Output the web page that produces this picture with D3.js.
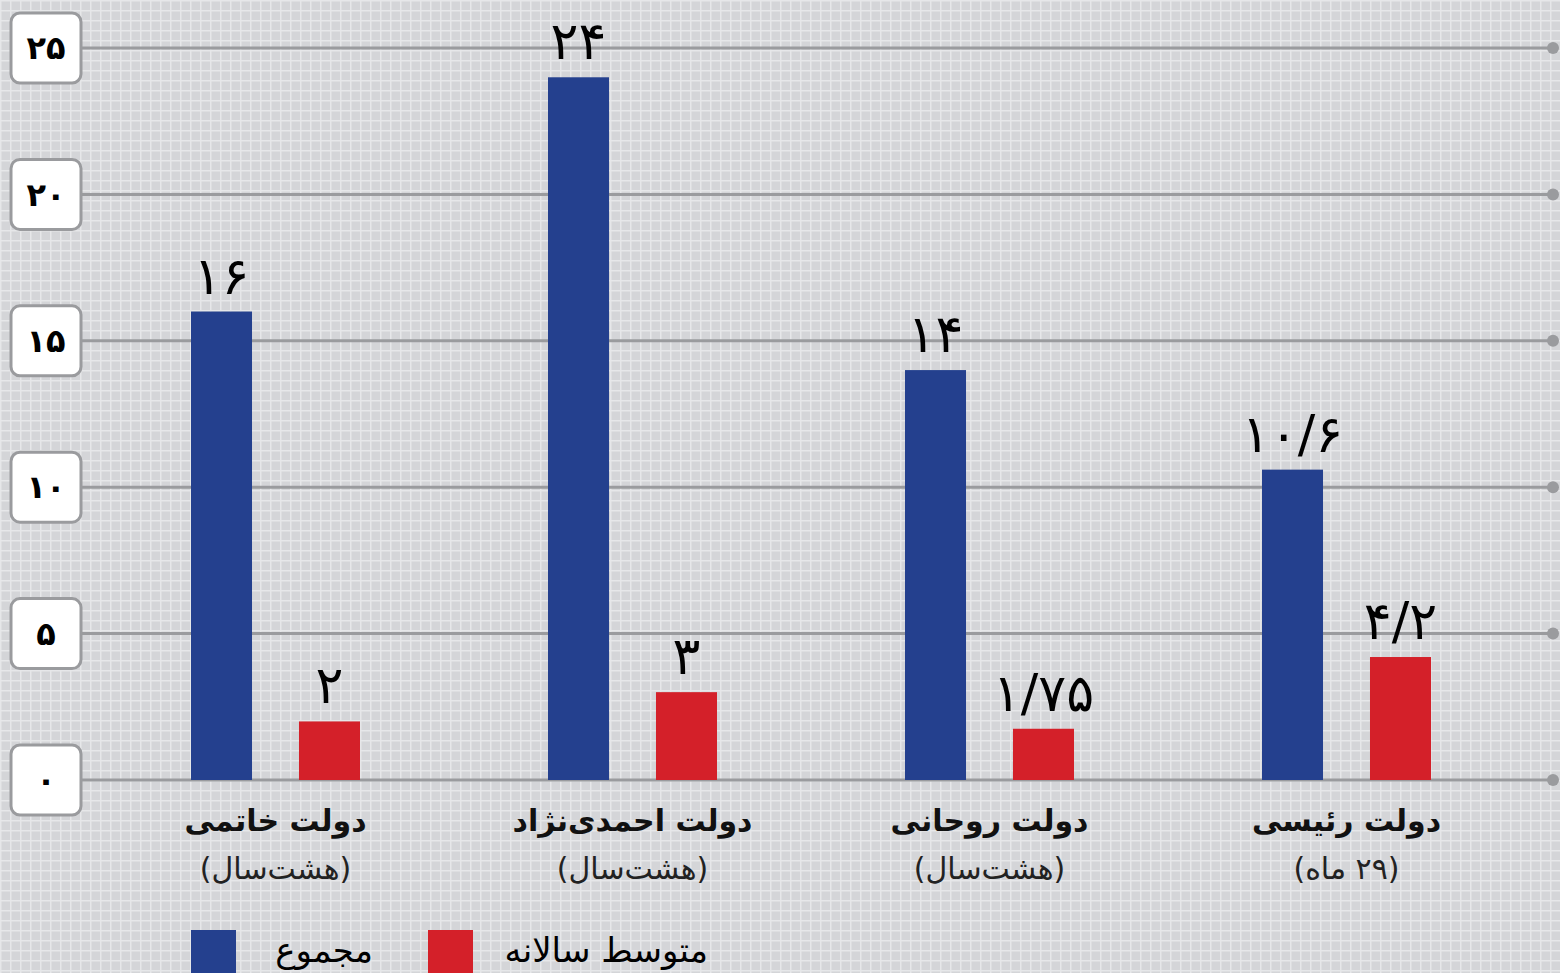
<!DOCTYPE html>
<html>
<head>
<meta charset="utf-8">
<script src="https://cdn.jsdelivr.net/npm/d3@7.9.0/dist/d3.min.js"></script>
<style>
  html, body { margin: 0; padding: 0; background: #d5d6d9; }
  svg { display: block; }
  text { font-family: "DejaVu Sans", "Noto Sans", sans-serif; }
</style>
</head>
<body>
<svg id="chart" width="1560" height="973"></svg>
<script>
// data
const governments = ['دولت خاتمی', 'دولت احمدی‌نژاد', 'دولت روحانی', 'دولت رئیسی'];
const periods = ['(هشت‌سال)', '(هشت‌سال)', '(هشت‌سال)', '(۲۹ ماه)'];
const totals = [16, 24, 14, 10.6];
const yearlyAvg = [2, 3, 1.75, 4.2];
const seriesNames = ['مجموع', 'متوسط سالانه'];
const yTicks = [0, 5, 10, 15, 20, 25];

const colors = ['#24408e', '#d42029'];

// persian digits
const faDigits = '۰۱۲۳۴۵۶۷۸۹';
function toFa(n) {
  return String(n).replace(/\d/g, d => faDigits[d]).replace('.', '/');
}

const svg = d3.select('#chart');
const W = 1560, H = 973;

// background grid pattern
const defs = svg.append('defs');
const pat = defs.append('pattern')
  .attr('id', 'grid')
  .attr('width', 10).attr('height', 10)
  .attr('patternUnits', 'userSpaceOnUse');
pat.append('rect').attr('width', 10).attr('height', 10).attr('fill', '#d4d5d8');
pat.append('rect').attr('x', 0).attr('y', 0).attr('width', 10).attr('height', 1.5).attr('fill', '#e6e7e9');
pat.append('rect').attr('x', 0).attr('y', 0).attr('width', 1.5).attr('height', 10).attr('fill', '#e6e7e9');
svg.append('rect').attr('width', W).attr('height', H).attr('fill', 'url(#grid)');

const y = d3.scaleLinear().domain([0, 25]).range([780, 48]);
const x0 = d3.scaleBand().domain(d3.range(governments.length)).range([97, 1525]);
const groupW = 169;
const x1 = d3.scaleBand().domain([0, 1]).range([0, groupW]).paddingInner(0.435);

// gridlines
const grid = svg.append('g');
grid.selectAll('line').data(yTicks).join('line')
  .attr('x1', 80).attr('x2', 1553)
  .attr('y1', d => y(d)).attr('y2', d => y(d))
  .attr('stroke', '#9a9b9e').attr('stroke-width', 3);
grid.selectAll('circle').data(yTicks).join('circle')
  .attr('cx', 1553).attr('cy', d => y(d)).attr('r', 6)
  .attr('fill', '#9a9b9e');

// tick boxes
const tk = svg.append('g').selectAll('g').data(yTicks).join('g')
  .attr('transform', d => `translate(46,${y(d)})`);
tk.append('rect')
  .attr('x', -35).attr('y', -35).attr('width', 70).attr('height', 70)
  .attr('rx', 9).attr('fill', '#fff')
  .attr('stroke', '#9a9b9e').attr('stroke-width', 3);
tk.append('text')
  .attr('text-anchor', 'middle').attr('dy', '0.35em')
  .attr('font-size', 32).attr('font-weight', 'bold').attr('fill', '#000')
  .text(d => toFa(d));

// bars
const groups = svg.append('g').selectAll('g').data(governments).join('g')
  .attr('transform', (d, i) => `translate(${x0(i) + (x0.bandwidth() - groupW) / 2},0)`);

groups.each(function (d, i) {
  const g = d3.select(this);
  const vals = [totals[i], yearlyAvg[i]];
  g.selectAll('rect').data(vals).join('rect')
    .attr('x', (v, j) => x1(j))
    .attr('y', v => y(v))
    .attr('width', x1.bandwidth())
    .attr('height', v => y(0) - y(v))
    .attr('fill', (v, j) => colors[j]);
  g.selectAll('text.val').data(vals).join('text')
    .attr('class', 'val')
    .attr('x', (v, j) => x1(j) + x1.bandwidth() / 2)
    .attr('y', v => y(v) - 18)
    .attr('text-anchor', 'middle')
    .attr('font-size', 52).attr('fill', '#000')
    .text(v => toFa(v));
});

// category labels
const cat = svg.append('g').selectAll('g').data(governments).join('g')
  .attr('transform', (d, i) => `translate(${x0(i) + x0.bandwidth() / 2},0)`);
cat.append('text')
  .attr('y', 831).attr('text-anchor', 'middle').attr('direction', 'rtl')
  .attr('font-size', 30).attr('font-weight', 'bold').attr('fill', '#111')
  .text(d => d);
cat.append('text')
  .attr('y', 879).attr('text-anchor', 'middle').attr('direction', 'rtl')
  .attr('font-size', 30).attr('fill', '#222')
  .text((d, i) => periods[i]);

// legend
const legendX = [191, 428];
const textRight = [373, 708];
const lg = svg.append('g').selectAll('g').data(seriesNames).join('g');
lg.append('rect')
  .attr('x', (d, i) => legendX[i]).attr('y', 930)
  .attr('width', 45).attr('height', 50)
  .attr('fill', (d, i) => colors[i]);
lg.append('text')
  .attr('x', (d, i) => textRight[i]).attr('y', 962)
  .attr('text-anchor', 'start').attr('direction', 'rtl')
  .attr('font-size', 34).attr('fill', '#000')
  .text(d => d);
</script>
</body>
</html>
